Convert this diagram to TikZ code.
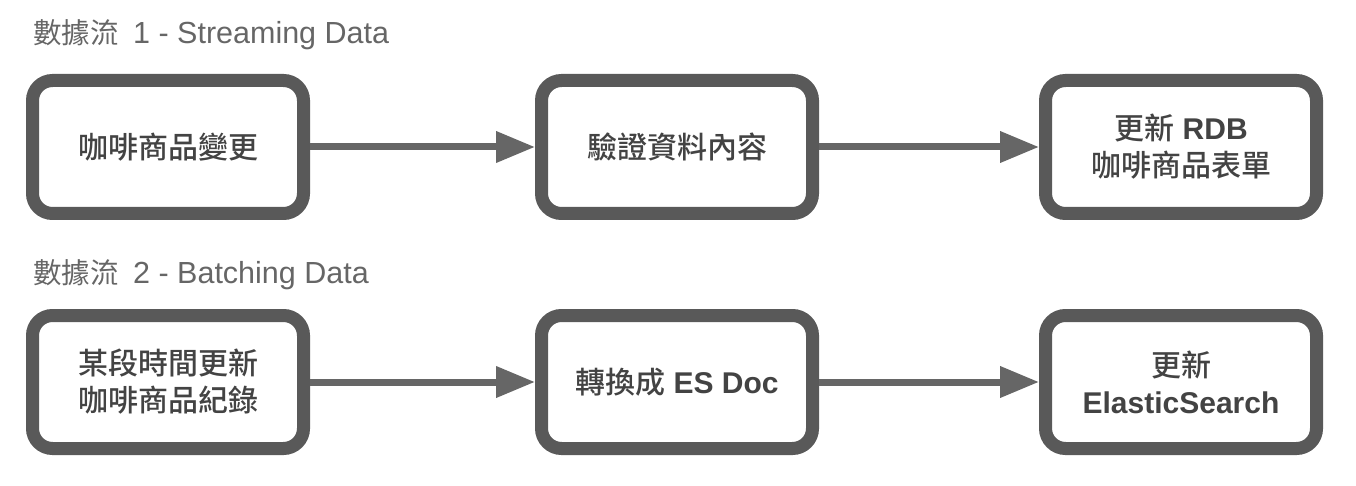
\documentclass[tikz,border=0pt]{standalone}
\usepackage{fontspec}
\setmainfont{Liberation Sans}
\newfontfamily\cjk{Noto Sans CJK TC}[BoldFont={Noto Sans CJK TC Medium}]
\usetikzlibrary{positioning,arrows.meta}
\definecolor{boxgray}{HTML}{595959}
\definecolor{textgray}{HTML}{434343}
\definecolor{headgray}{HTML}{666666}
\newcommand{\headcjk}[1]{{\fontsize{28.5}{34}\selectfont\cjk #1}\hspace{6pt}}
\tikzset{
  stage/.style={draw=boxgray, line width=13pt, rounded corners=20pt, fill=white,
    minimum width=271pt, minimum height=133pt, align=center, text=textgray,
    font=\fontsize{30}{37}\selectfont\bfseries},
  flow/.style={draw=headgray, line width=7pt, -{Triangle[length=39pt,width=30pt]}},
  caption/.style={anchor=west, inner sep=0pt, text=headgray, font=\fontsize{30.5}{36}\selectfont}
}
\begin{document}
\begin{tikzpicture}
    \useasboundingbox (0,0) rectangle (1356pt,-486pt);
    % streaming row
    \node[caption] (head1) at (33pt,-35pt) {\headcjk{數據流} 1 - Streaming Data};
    \node[stage] (change) at (168pt,-147pt) {{\cjk 咖啡商品變更}};
    \node[stage, right=225pt of change] (verify) {{\cjk 驗證資料內容}};
    \node[stage, right=220pt of verify] (rdb) {{\cjk 更新} RDB\\{\cjk 咖啡商品表單}};
    \draw[flow] (change) -- (verify);
    \draw[flow] (verify) -- (rdb);
    % batching row
    \node[caption] (head2) at (33pt,-275pt) {\headcjk{數據流} 2 - Batching Data};
    \node[stage, below=89pt of change] (period) {{\cjk 某段時間更新}\\{\cjk 咖啡商品紀錄}};
    \node[stage, right=225pt of period] (convert) {{\cjk 轉換成} ES Doc};
    \node[stage, right=220pt of convert] (es) {{\cjk 更新}\\ElasticSearch};
    \draw[flow] (period) -- (convert);
    \draw[flow] (convert) -- (es);
\end{tikzpicture}
\end{document}
